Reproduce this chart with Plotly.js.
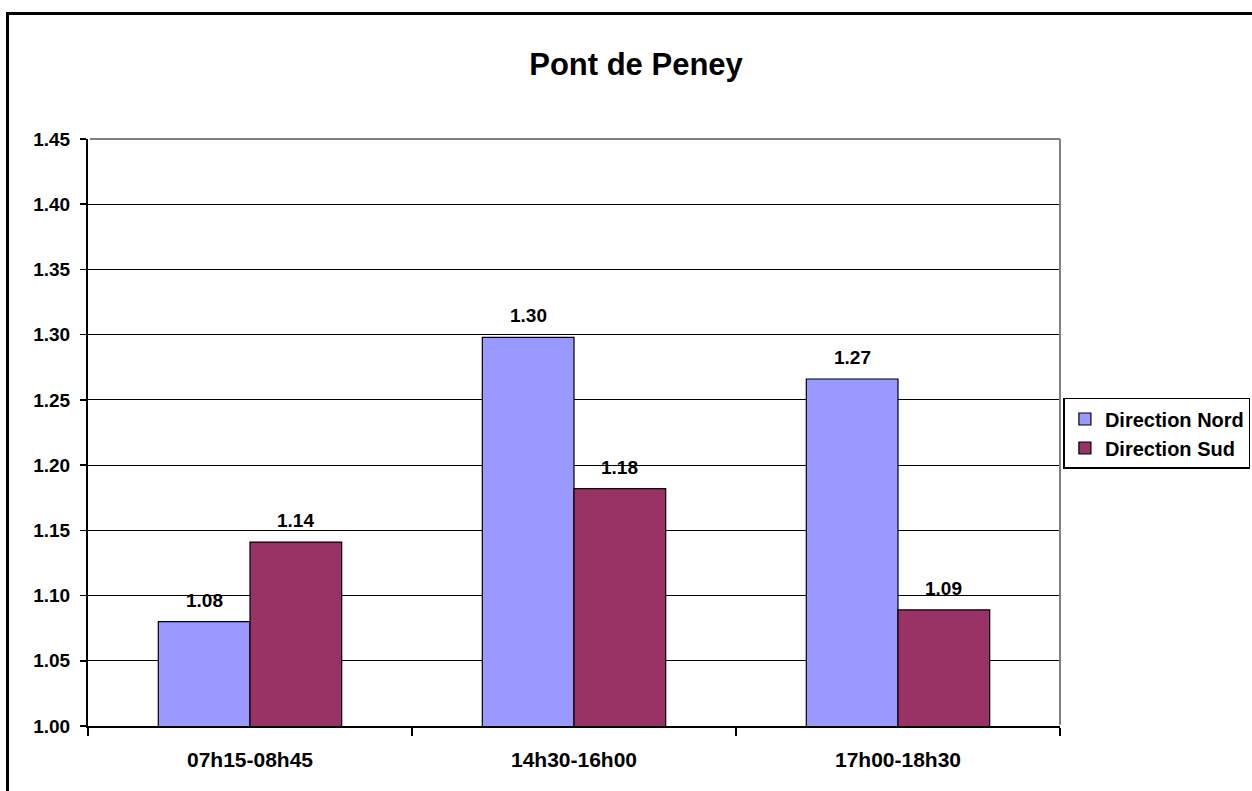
<!DOCTYPE html>
<html>
<head>
<meta charset="utf-8">
<script src="https://cdn.plot.ly/plotly-3.0.1.min.js"></script>
<style>
  html, body { margin: 0; padding: 0; background: #fff; }
  #wrap { position: relative; width: 1252px; height: 791px; overflow: hidden; }
  #frame { position: absolute; left: 6px; top: 12px; width: 1300px; height: 900px;
           border-left: 3px solid #000; border-top: 3px solid #000; pointer-events: none; z-index: 5; }
  #chart { position: absolute; left: 0; top: 0; width: 1252px; height: 791px; }
</style>
</head>
<body>
<div id="wrap">
  <div id="chart"></div>
  <div id="frame"></div>
</div>
<script>
const categories = ["07h15-08h45", "14h30-16h00", "17h00-18h30"];
const seriesNames = ["Direction Nord", "Direction Sud"];
const nordValues = [1.08, 1.298, 1.266];
const sudValues = [1.141, 1.182, 1.089];
const yTickValues = [1.00, 1.05, 1.10, 1.15, 1.20, 1.25, 1.30, 1.35, 1.40, 1.45];
const titleText = "Pont de Peney";

const FONT = "Liberation Sans, Arial, Helvetica, sans-serif";
const W = 1252, H = 791;
const M = { l: 88, r: 192, t: 139, b: 65, autoexpand: false };
const BARGAP = 0.434;

function barTrace(name, values, color) {
  return {
    type: "bar",
    name: name,
    x: categories,
    y: values,
    marker: { color: color, line: { color: "#000", width: 1.2 } },
    hoverinfo: "skip"
  };
}

const data = [
  barTrace(seriesNames[0], nordValues, "#9999FF"),
  barTrace(seriesNames[1], sudValues, "#993366")
];

// value labels above each bar, positioned through the category axis + bar offset
const plotW = W - M.l - M.r;
const barPx = plotW / categories.length * (1 - BARGAP) / 2;
const annotations = [];
[nordValues, sudValues].forEach((vals, si) => {
  vals.forEach((v, ci) => {
    annotations.push({
      x: categories[ci], y: v, xref: "x", yref: "y",
      text: "<b>" + v.toFixed(2) + "</b>",
      showarrow: false,
      xanchor: "center", yanchor: "bottom",
      xshift: (si === 0 ? -1 : 1) * barPx / 2,
      yshift: 9,
      font: { family: FONT, size: 19, color: "#000" }
    });
  });
});

const layout = {
  width: W,
  height: H,
  paper_bgcolor: "#fff",
  plot_bgcolor: "#fff",
  margin: M,
  font: { family: FONT, color: "#000" },
  title: {
    text: "<b>" + titleText + "</b>",
    font: { family: FONT, size: 31, color: "#000" },
    xref: "container", x: 0.508, xanchor: "center",
    yref: "container", y: 0.919, yanchor: "middle"
  },
  barmode: "group",
  bargap: BARGAP,
  bargroupgap: 0,
  showlegend: true,
  legend: {
    x: 1.0035, xanchor: "left",
    y: 0.5588, yanchor: "top",
    bgcolor: "#fff",
    bordercolor: "#000",
    borderwidth: 1.5,
    font: { family: FONT, size: 20, color: "#000", weight: "bold" },
    tracegroupgap: 0,
    itemwidth: 30
  },
  xaxis: {
    type: "category",
    showgrid: false,
    showline: true, linecolor: "#000", linewidth: 2,
    ticks: "outside", tickson: "boundaries", ticklen: 8, tickwidth: 2, tickcolor: "#000",
    tickfont: { family: FONT, size: 21, color: "#000", weight: "bold" },
    ticklabelstandoff: 14,
    fixedrange: true
  },
  yaxis: {
    range: [1.0, 1.45],
    tickvals: yTickValues,
    tickformat: ".2f",
    showgrid: true, gridcolor: "#000", gridwidth: 1.2,
    zeroline: false,
    showline: true, linecolor: "#000", linewidth: 2,
    ticks: "outside", ticklen: 6, tickwidth: 1.5, tickcolor: "#000",
    tickfont: { family: FONT, size: 19, color: "#000", weight: "bold" },
    ticklabelstandoff: 6,
    fixedrange: true
  },
  annotations: annotations,
  shapes: [
    { type: "line", xref: "paper", yref: "paper", x0: 0.002, x1: 1, y0: 1, y1: 1,
      line: { color: "#808080", width: 2 }, layer: "above" },
    { type: "line", xref: "paper", yref: "paper", x0: 1, x1: 1, y0: 0.002, y1: 1,
      line: { color: "#808080", width: 2 }, layer: "above" }
  ]
};

Plotly.newPlot("chart", data, layout, { displayModeBar: false, staticPlot: true });
</script>
</body>
</html>
